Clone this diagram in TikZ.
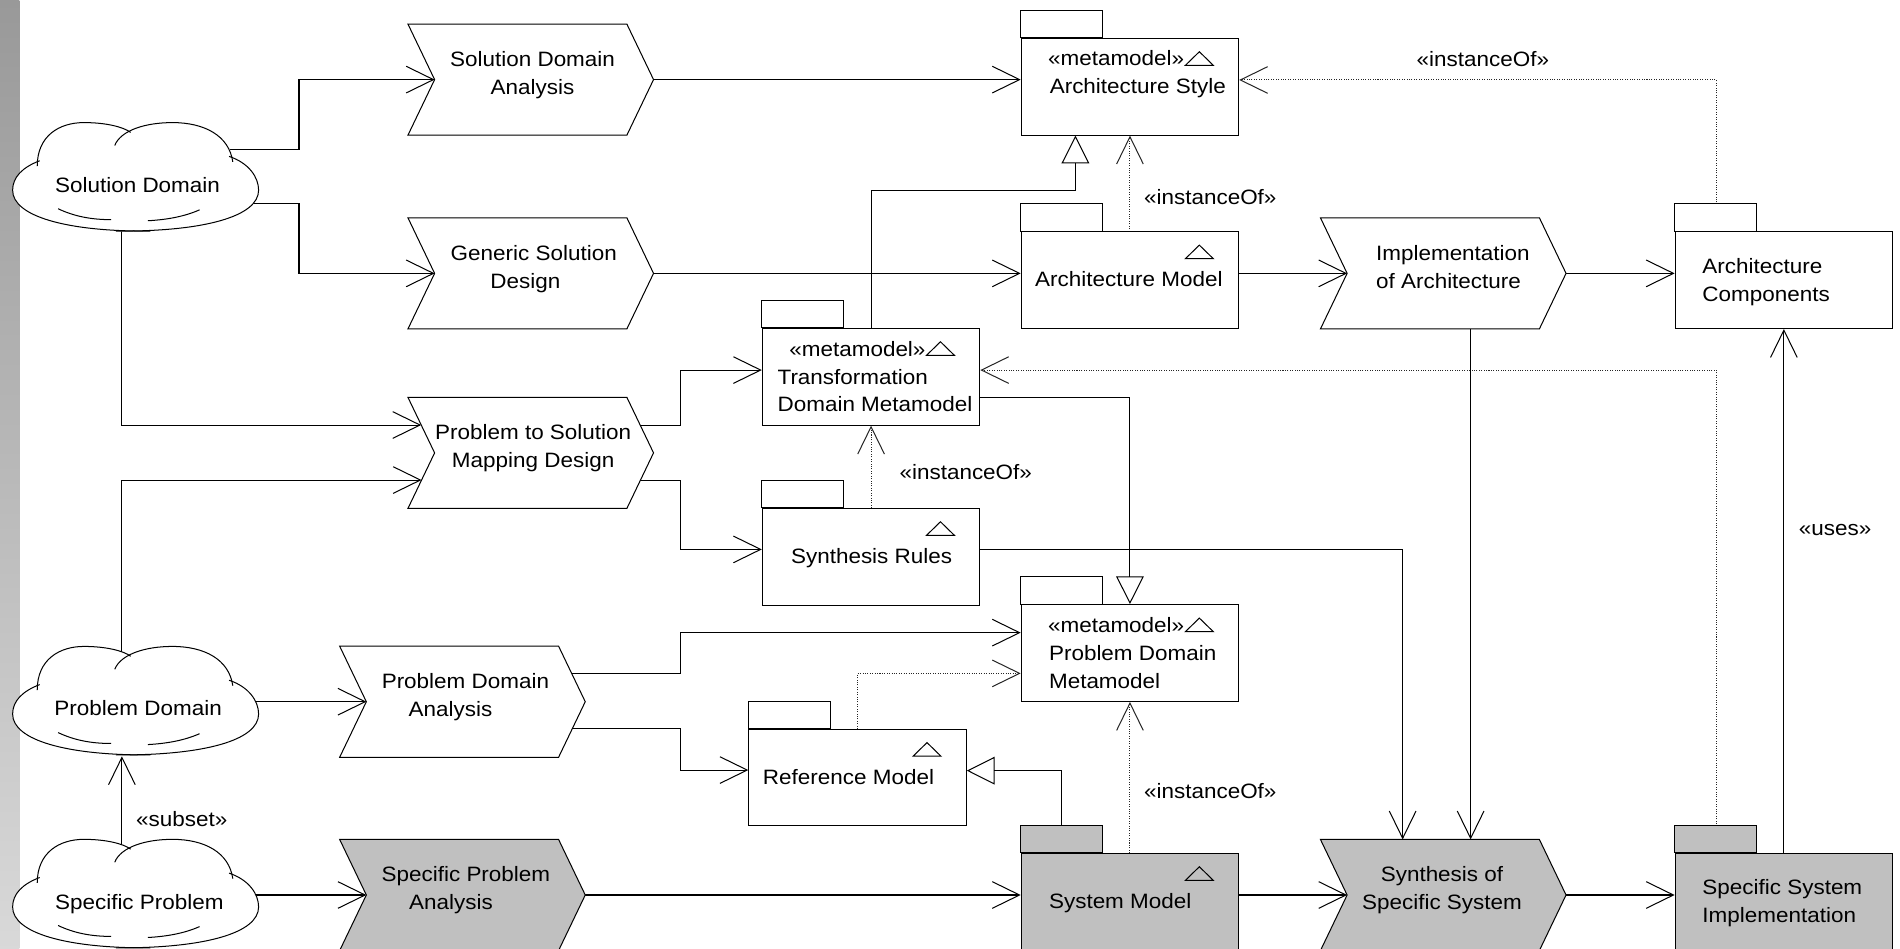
\documentclass[tikz,border=0pt]{standalone}
\usepackage{fontspec}
\setmainfont{Liberation Sans}[FakeStretch=1.08]
\usetikzlibrary{arrows.meta,calc}
\pgfdeclarelayer{connectors}
\pgfsetlayers{connectors,main}
\definecolor{shapegray}{HTML}{C0C0C0}
\newcommand\diagfont{\fontsize{10.3pt}{13.8pt}\selectfont}

% process step: chevron drawn inside a 202 x 91 box, notch 22 deep
\newcommand\mkchevron[4]{%
  \node[chevbox] (#1) at (#2,#3) {};
  \draw[outline,fill=#4] (#1.north west) -- ($(#1.north east)+(-22,0)$) -- (#1.east)
    -- ($(#1.south east)+(-22,0)$) -- (#1.south west) -- ($(#1.west)+(22,0)$) -- cycle;
  \coordinate (#1-in) at ($(#1.west)+(22,0)$);}

% UML package: body plus tab on the upper left
\newcommand\mkpackage[4]{%
  \node[pkgbox,fill=#4] (#1) at (#2,#3) {};
  \draw[outline,fill=#4] (#1.north west) rectangle ++(67.5,-22.7);}

% small triangle marker in the upper right corner of a package
\newcommand\mkicon[1]{%
  \draw[outline] ($(#1.north east)+(-44.4,22.8)$) -- ++(23,0) -- ++(-11.5,-11.2) -- cycle;}

% cloud drawn in a unit box scaled to the node
\newcommand\mkcloud[3]{%
  \node[cloudbox] (#1) at (#2,#3) {};
  \begin{scope}[shift={(#1.north west)},x=121.8pt,y=-54pt]
    \fill[white] (0.10,0.36) .. controls (0.10,0.12) and (0.19,0.0) .. (0.29,0.0)
      .. controls (0.38,0.0) and (0.45,0.04) .. (0.48,0.09)
      .. controls (0.52,0.02) and (0.58,0.0) .. (0.65,0.0)
      .. controls (0.78,0.0) and (0.88,0.12) .. (0.895,0.33)
      .. controls (0.96,0.38) and (1.0,0.50) .. (1.0,0.62)
      .. controls (1.0,0.86) and (0.78,1.0) .. (0.49,1.0)
      .. controls (0.20,1.0) and (0.0,0.86) .. (0.0,0.62)
      .. controls (0.0,0.50) and (0.04,0.41) .. (0.10,0.36) -- cycle;
    \draw[outline] (0.10,0.40) .. controls (0.10,0.12) and (0.19,0.0) .. (0.29,0.0)
      .. controls (0.38,0.0) and (0.45,0.04) .. (0.48,0.09);
    \draw[outline] (0.415,0.21) .. controls (0.44,0.07) and (0.54,0.0) .. (0.65,0.0)
      .. controls (0.78,0.0) and (0.88,0.12) .. (0.895,0.36);
    \draw[outline] (0.88,0.31) .. controls (0.96,0.37) and (1.0,0.50) .. (1.0,0.62)
      .. controls (1.0,0.86) and (0.78,1.0) .. (0.42,0.995);
    \draw[outline] (0.56,0.995) .. controls (0.22,1.0) and (0.0,0.86) .. (0.0,0.62)
      .. controls (0.0,0.50) and (0.04,0.41) .. (0.11,0.35);
    \draw[outline] (0.185,0.79) .. controls (0.25,0.86) and (0.32,0.89) .. (0.40,0.89);
    \draw[outline] (0.55,0.90) .. controls (0.63,0.89) and (0.70,0.86) .. (0.76,0.80);
  \end{scope}}

\begin{document}
\begin{tikzpicture}[x=0.6pt,y=-0.6pt,
  outline/.style={line width=0.5pt,draw=black},
  chevbox/.style={rectangle,draw=none,inner sep=0pt,minimum width=121.2pt,minimum height=54.6pt},
  pkgbox/.style={rectangle,outline,inner sep=0pt,minimum width=107.7pt,minimum height=48pt},
  cloudbox/.style={rectangle,draw=none,inner sep=0pt,minimum width=121.8pt,minimum height=54pt},
  txt/.style={inner sep=0pt,font=\diagfont},
  arr/.style={line width=0.5pt,draw=black,-{Straight Barb[length=13.5pt,width=13.2pt]}},
  gen/.style={line width=0.5pt,draw=black,-{Triangle[open,length=13.7pt,width=13.7pt]}},
  inst/.style={line width=0.5pt,draw=black!85,dash pattern=on 0.5pt off 0.7pt,
    -{Straight Barb[length=13.5pt,width=13.2pt]}}]

\useasboundingbox (0,0) rectangle (1568,783);
\clip (0,0) rectangle (1568,783);

% clouds
\mkcloud{sd}{112.25}{146.5}
\node[txt,anchor=base] (sd-t) at (113.5,158.9) {Solution Domain};
\mkcloud{pd}{112.25}{578.8}
\node[txt,anchor=base] (pd-t) at (114,590.8) {Problem Domain};
\mkcloud{sp}{112.25}{738}
\node[txt,anchor=base] (sp-t) at (115,750.2) {Specific Problem};

% process steps
\mkchevron{sda}{438}{65.7}{white}
\node[txt,anchor=north,align=center] (sda-t) at (439.5,41.9) {Solution Domain\\Analysis};
\mkchevron{gsd}{438}{225.6}{white}
\node[txt,anchor=north,align=center] (gsd-t) at (440.5,202.3) {Generic Solution\\Design\hspace*{8.4pt}};
\mkchevron{psmd}{438}{373.75}{white}
\node[txt,anchor=north,align=center] (psmd-t) at (440,350) {Problem to Solution\\Mapping Design};
\mkchevron{pda}{381.65}{579.1}{white}
\node[txt,anchor=north,align=center] (pda-t) at (384.1,555.5) {Problem Domain\\Analysis\hspace*{14.8pt}};
\mkchevron{spa}{381.65}{738.6}{shapegray}
\node[txt,anchor=north,align=center] (spa-t) at (384.5,714.6) {Specific Problem\\Analysis\hspace*{14.8pt}};
\mkchevron{ioa}{1191.05}{225.6}{white}
\node[txt,anchor=north west,align=left] (ioa-t) at (1135.3,202.3) {Implementation\\of Architecture};
\mkchevron{soss}{1191.05}{738.6}{shapegray}
\node[txt,anchor=north,align=center] (soss-t) at (1190,714.6) {Synthesis of\\Specific System};

% packages
\mkpackage{as}{932.5}{71.5}{white}\mkicon{as}
\node[txt,anchor=base east] (as-s) at (977.6,54.4) {«metamodel»};
\node[txt,anchor=base west] (as-t) at (866,77.2) {Architecture Style};

\mkpackage{am}{932.5}{231.1}{white}\mkicon{am}
\node[txt,anchor=base west] (am-t) at (854,236.7) {Architecture Model};

\mkpackage{tdm}{718.85}{310.85}{white}\mkicon{tdm}
\node[txt,anchor=base east] (tdm-s) at (764.1,293.8) {«metamodel»};
\node[txt,anchor=north west,align=left] (tdm-t) at (641.4,304.2) {Transformation\\Domain Metamodel};

\mkpackage{sr}{718.85}{459.4}{white}\mkicon{sr}
\node[txt,anchor=base west] (sr-t) at (652.5,465.1) {Synthesis Rules};

\mkpackage{pdm}{932.5}{538.9}{white}\mkicon{pdm}
\node[txt,anchor=base east] (pdm-s) at (977.6,522.1) {«metamodel»};
\node[txt,anchor=north west,align=left] (pdm-t) at (865.4,532.5) {Problem Domain\\Metamodel};

\mkpackage{rm}{707.75}{641.65}{white}\mkicon{rm}
\node[txt,anchor=base west] (rm-t) at (629.3,647.2) {Reference Model};

\mkpackage{sm}{932.5}{744.1}{shapegray}\mkicon{sm}
\node[txt,anchor=base west] (sm-t) at (865.4,749.8) {System Model};

\mkpackage{ac}{1472.15}{231.1}{white}
\node[txt,anchor=north west,align=left] (ac-t) at (1404.6,213.1) {Architecture\\Components};

\mkpackage{ssi}{1472.15}{744.1}{shapegray}
\node[txt,anchor=north west,align=left] (ssi-t) at (1404.6,725.5) {Specific System\\Implementation};

% connector labels
\node[txt] (lb-am) at (998.8,162.9) {«instanceOf»};
\node[txt] (lb-ac) at (1223.7,49) {«instanceOf»};
\node[txt] (lb-sr) at (797,389.3) {«instanceOf»};
\node[txt] (lb-sm) at (998.8,652.8) {«instanceOf»};
\node[txt] (lb-sp) at (150,676) {«subset»};
\node[txt] (lb-ssi) at (1514.5,437.4) {«uses»};

\begin{pgfonlayer}{connectors}
  \shade[top color=black!40,bottom color=black!15] (0,0) rectangle (16,783);
  % from the clouds
  \draw[arr] ($(sd.center)+(0,-23.5)$) -- ++(134.5,0) |- (sda-in);
  \draw[arr] ($(sd.center)+(0,21.8)$) -- ++(134.5,0) |- (gsd-in);
  \draw[arr] ($(sd.center)+(-11.65,0)$) |- ($(psmd.west)+(10.9,-23)$);
  \draw[arr] ($(pd.center)+(-11.65,0)$) |- ($(psmd.west)+(11.25,22.4)$);
  \draw[arr] (pd.center |- pda-in) -- (pda-in);
  \draw[arr] ($(sp.center)+(-11.65,0)$) -- ($(pd.south)+(-11.65,0)$);
  \draw[arr] (sp.center |- spa-in) -- (spa-in);
  % solution side
  \draw[arr] (sda.east) -- (sda.east -| as.west);
  \draw[arr] (gsd.east) -- (gsd.east -| am.west);
  \draw[arr] (am.center |- ioa-in) -- (ioa-in);
  \draw[arr] (ioa.east) -- (ioa.east -| ac.west);
  \draw[inst] (am.center) -- (as.south);
  \draw[inst] ($(ac.center)+(-55.65,0)$) |- ($(as.east)+(0,-5.5)$);
  \draw[gen] (tdm.center) -- ++(0,-153.75) -| ($(as.south)+(-45,0)$);
  % mapping
  \draw[arr] ($(psmd.center)+(0,-23)$) -- ++(123.5,0) |- ($(tdm.west)+(0,-5.45)$);
  \draw[arr] ($(psmd.center)+(0,22.4)$) -- ++(123.5,0) |- ($(sr.west)+(0,-6)$);
  \draw[inst] (sr.center) -- (tdm.south);
  \draw[gen] ($(tdm.center)+(0,17.05)$) -| (pdm.north);
  \draw[inst] ($(ssi.center)+(-55.65,0)$) |- ($(tdm.east)+(0,-5.45)$);
  % problem side
  \draw[arr] ($(pda.center)+(0,-23.4)$) -- ++(179.85,0) |- ($(pdm.west)+(0,-16.8)$);
  \draw[arr] ($(pda.center)+(0,22)$) -- ++(179.85,0) |- ($(rm.west)+(0,-6.15)$);
  \draw[inst] (rm.center) |- ($(pdm.west)+(0,16.8)$);
  \draw[gen] ($(sm.center)+(-56.4,0)$) |- ($(rm.east)+(0,-5.65)$);
  \draw[inst] (sm.center) -- (pdm.south);
  % synthesis
  \draw[arr] (spa.east) -- (spa.east -| sm.west);
  \draw[arr] (sm.center |- soss-in) -- (soss-in);
  \draw[arr] ($(sr.center)+(0,-6)$) -| ($(soss.north)+(-33.5,0)$);
  \draw[arr] ($(ioa.center)+(22.6,0)$) -- ($(soss.north)+(22.6,0)$);
  \draw[arr] (soss.east) -- (soss.east -| ssi.west);
  \draw[arr] (ssi.center) -- (ac.south);
\end{pgfonlayer}
\end{tikzpicture}
\end{document}
